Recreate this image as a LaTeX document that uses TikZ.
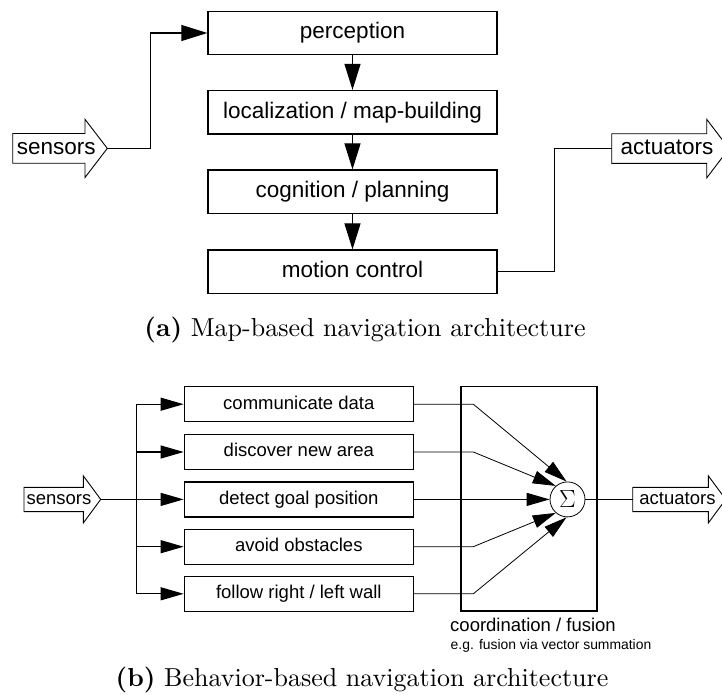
\documentclass[tikz,border=0pt]{standalone}
\usepackage{fontspec}
\setsansfont{Liberation Sans}
\newfontfamily\capfont{lmroman10-regular.otf}[BoldFont=lmroman10-bold.otf]
\usetikzlibrary{arrows.meta,calc}
\tikzset{
  topbox/.style={draw, line width=1.3pt, minimum width=289pt, minimum height=43.5pt, inner sep=0pt,
    text height=16.2pt, text depth=4.5pt, font=\sffamily\fontsize{22.5}{27}\selectfont},
  botbox/.style={draw, line width=1.3pt, minimum width=229pt, minimum height=35pt, inner sep=0pt,
    text height=13.3pt, text depth=3.7pt, font=\sffamily\fontsize{18.5}{22}\selectfont},
  bigtip/.style={-{Triangle[length=26pt,width=16pt]}},
  smalltip/.style={-{Triangle[length=23pt,width=13pt]}},
  conn/.style={line width=1.1pt},
  thinconn/.style={line width=0.8pt},
  blockarrow/.style={draw, line width=0.9pt, fill=white},
  bigtxt/.style={inner sep=0pt, text height=16.2pt, text depth=4.5pt, font=\sffamily\fontsize{22.5}{27}\selectfont},
  smalltxt/.style={inner sep=0pt, text height=13.3pt, text depth=3.7pt, font=\sffamily\fontsize{18.5}{22}\selectfont},
  caption/.style={inner sep=0pt, anchor=base, font=\capfont\fontsize{26}{30}\selectfont},
}
\begin{document}
\begin{tikzpicture}[x=1pt,y=-1pt]
\useasboundingbox (0,0) rectangle (722,695);

% ---------- (a) map-based ----------
\node[topbox] (per) at (352.5,33) {perception};
\node[topbox] (loc) at (352.5,112.3) {localization / map-building};
\node[topbox] (cog) at (352.5,191.8) {cognition / planning};
\node[topbox] (mot) at (352.5,271.8) {motion control};

\draw[conn,bigtip] (per) -- (loc);
\draw[conn,bigtip] (loc) -- (cog);
\draw[conn,bigtip] (cog) -- (mot);

% sensors block arrow
\draw[blockarrow] (12.7,133.5) -- (85,133.5) -- (85,119.3) -- (107.3,148.4) -- (85,177.5) -- (85,163.3) -- (12.7,163.3) -- cycle;
\node[bigtxt] (sensA) at (56.2,148.4) {sensors};
\coordinate (sensAtip) at (107.3,148.4);

% actuators block arrow
\draw[blockarrow] (611.7,133.8) -- (706.7,133.8) -- (706.7,119.3) -- (729,148.6) -- (706.7,177.9) -- (706.7,163.4) -- (611.7,163.4) -- cycle;
\node[bigtxt] (actA) at (667,148.6) {actuators};
\coordinate (actAtail) at (611.7,148.6);

\draw[conn,bigtip] (sensAtip) -- ++(43.4,0) |- (per.west);
\draw[conn] (mot.east) -- ++(57,0) |- (actAtail);

\node[caption] (capA) at (365,336) {\textbf{(a)} Map-based navigation architecture};

% ---------- (b) behavior-based ----------
\node[draw, line width=1.3pt, minimum width=136pt, minimum height=224.3pt, inner sep=0pt] (coord) at (529,498.9) {};

\node[botbox] (b1) at (298.8,404.2) {communicate data};
\node[botbox] (b2) at (298.8,452) {discover new area};
\node[botbox] (b3) at (298.8,499.4) {detect goal position};
\node[botbox] (b4) at (298.8,546.7) {avoid obstacles};
\node[botbox] (b5) at (298.8,593.8) {follow right / left wall};

\node[draw, circle, line width=0.8pt, fill=white, minimum size=35pt, inner sep=0pt, font=\fontsize{24}{28}\selectfont] (sig) at (567.5,499.4) {$\Sigma$};

% sensors block arrow (b)
\draw[blockarrow] (24,487.3) -- (83.3,487.3) -- (83.3,475.8) -- (100.7,499.4) -- (83.3,523) -- (83.3,511.6) -- (24,511.6) -- cycle;
\node[smalltxt] (sensB) at (58.9,499.4) {sensors};
\coordinate (sensBtip) at (100.7,499.4);

% actuators block arrow (b)
\draw[blockarrow] (632.7,487.3) -- (708.3,487.3) -- (708.3,475.8) -- (725.7,499.4) -- (708.3,523) -- (708.3,511.6) -- (632.7,511.6) -- cycle;
\node[smalltxt] (actB) at (677.5,499.4) {actuators};
\coordinate (actBtail) at (632.7,499.4);

\coordinate (bus) at (136.7,0);
\draw[conn] (sensBtip) -- (bus |- sensBtip);
\draw[conn] (bus |- b1.west) -- (bus |- b5.west);
\foreach \b in {b1,b2,b3,b4,b5}
  \draw[conn,smalltip] (bus |- \b.west) -- (\b.west);

\coordinate (bend) at (473.3,0);
\draw[thinconn,smalltip] (b1.east) -- (bend |- b1.east) -- (sig.93);
\draw[thinconn,smalltip] (b2.east) -- (bend |- b2.east) -- (sig.131);
\draw[conn,smalltip] (b3.east) -- (sig.west);
\draw[thinconn,smalltip] (b4.east) -- (bend |- b4.east) -- (sig.229);
\draw[thinconn,smalltip] (b5.east) -- (bend |- b5.east) -- (sig.267);
\draw[conn] (sig.east) -- (actBtail);

\node[smalltxt] (coordlbl) at (533,626.7) {coordination / fusion};
\node[inner sep=0pt, font=\sffamily\fontsize{13.9}{16}\selectfont] (coordsub) at (551,646) {e.g. fusion via vector summation};

\node[caption] (capB) at (362,686.5) {\textbf{(b)} Behavior-based navigation architecture};
\end{tikzpicture}
\end{document}
